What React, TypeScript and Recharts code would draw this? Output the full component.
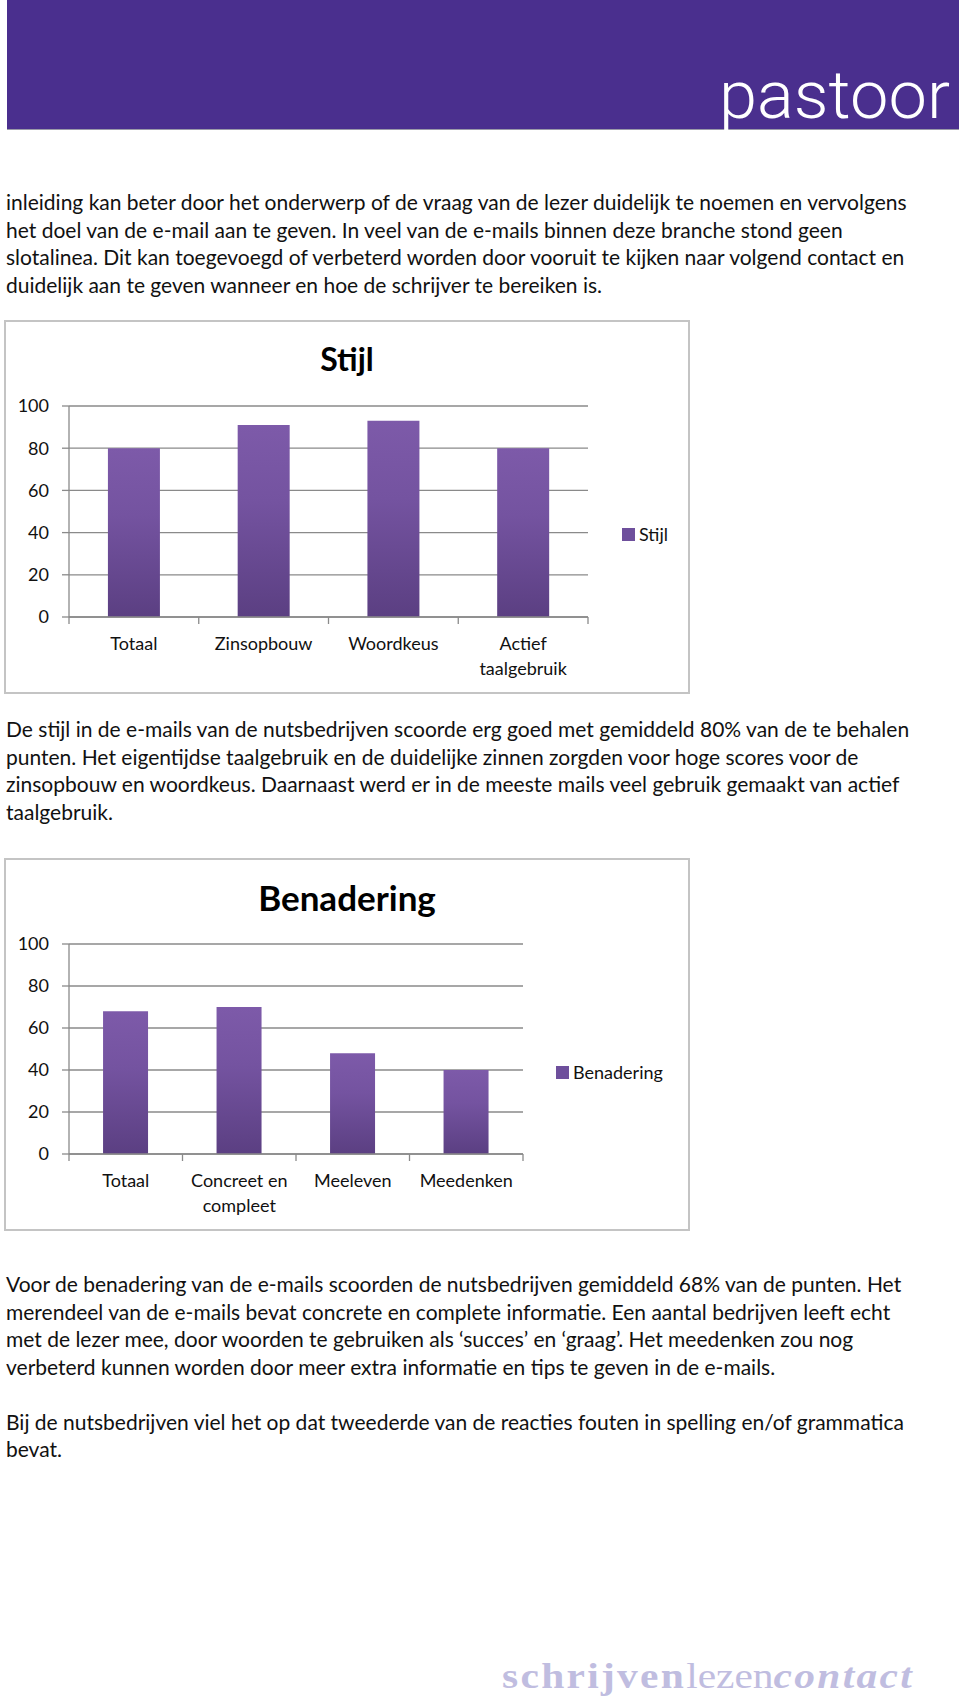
import { BarChart, Bar, XAxis, YAxis, CartesianGrid, Legend } from 'recharts';

// Stijl chart
const STIJL_CATEGORIES = ['Totaal', 'Zinsopbouw', 'Woordkeus', 'Actief taalgebruik'];
const STIJL_VALUES = [80, 91, 93, 80];

// Benadering chart
const BENADERING_CATEGORIES = ['Totaal', 'Concreet en compleet', 'Meeleven', 'Meedenken'];
const BENADERING_VALUES = [68, 70, 48, 40];

const Y_TICKS = [0, 20, 40, 60, 80, 100];

const INTRO_LINES = [
  'inleiding kan beter door het onderwerp of de vraag van de lezer duidelijk te noemen en vervolgens',
  'het doel van de e-mail aan te geven. In veel van de e-mails binnen deze branche stond geen',
  'slotalinea. Dit kan toegevoegd of verbeterd worden door vooruit te kijken naar volgend contact en',
  'duidelijk aan te geven wanneer en hoe de schrijver te bereiken is.',
];

const STIJL_LINES = [
  'De stijl in de e-mails van de nutsbedrijven scoorde erg goed met gemiddeld 80% van de te behalen',
  'punten. Het eigentijdse taalgebruik en de duidelijke zinnen zorgden voor hoge scores voor de',
  'zinsopbouw en woordkeus. Daarnaast werd er in de meeste mails veel gebruik gemaakt van actief',
  'taalgebruik.',
];

const BENADERING_LINES = [
  'Voor de benadering van de e-mails scoorden de nutsbedrijven gemiddeld 68% van de punten. Het',
  'merendeel van de e-mails bevat concrete en complete informatie. Een aantal bedrijven leeft echt',
  'met de lezer mee, door woorden te gebruiken als \u2018succes\u2019 en \u2018graag\u2019. Het meedenken zou nog',
  'verbeterd kunnen worden door meer extra informatie en tips te geven in de e-mails.',
  '',
  'Bij de nutsbedrijven viel het op dat tweederde van de reacties fouten in spelling en/of grammatica',
  'bevat.',
];

const FONT = 'Lato, "Open Sans", sans-serif';
const GRID = '#8a8a8a';
const TEXT = '#111';

const CHART_W = 682;
const Y_AXIS_W = 63;

function wrapLabel(label: string, maxChars = 12) {
  const words = label.split(' ');
  const lines: string[] = [];
  let cur = '';
  words.forEach((w) => {
    const next = cur ? cur + ' ' + w : w;
    if (next.length > maxChars && cur) {
      lines.push(cur);
      cur = w;
    } else {
      cur = next;
    }
  });
  if (cur) lines.push(cur);
  return lines;
}

function CategoryTick(props: any) {
  const { x, y, payload, index, band, count } = props;
  const lines = wrapLabel(String(payload.value));
  const left = x - band / 2;
  return (
    <g>
      <line x1={left} x2={left} y1={y} y2={y + 7} stroke={GRID} strokeWidth={1.3} />
      {index === count - 1 && (
        <line x1={x + band / 2} x2={x + band / 2} y1={y} y2={y + 7} stroke={GRID} strokeWidth={1.3} />
      )}
      <text textAnchor="middle" fontFamily={FONT} fontSize={18} fill={TEXT}>
        {lines.map((l, i) => (
          <tspan key={i} x={x} y={y + 27 + i * 25} dy="0.35em">
            {l}
          </tspan>
        ))}
      </text>
    </g>
  );
}

interface ScoreChartProps {
  title: string;
  titleSize: number;
  categories: string[];
  values: number[];
  top: number;
  height: number;
  marginRight: number;
  legendLeft: number;
  legendTop: number;
  gradId: string;
}

function ScoreChart({ title, titleSize, categories, values, top, height, marginRight, legendLeft, legendTop, gradId }: ScoreChartProps) {
  const data = categories.map((c, i) => ({ category: c, [title]: values[i] }));
  const band = (CHART_W - Y_AXIS_W - marginRight) / categories.length;

  return (
    <div
      style={{
        position: 'absolute',
        left: 4,
        top,
        width: CHART_W + 4,
        height: height + 4,
        border: '2px solid #c4c4c4',
        boxSizing: 'border-box',
        background: '#fff',
      }}
    >
      <div
        style={{
          position: 'absolute',
          left: 0,
          top: 17,
          width: CHART_W,
          textAlign: 'center',
          fontFamily: FONT,
          fontWeight: 700,
          fontSize: titleSize,
          lineHeight: '40px',
          color: '#000',
        }}
      >
        {title}
      </div>
      <BarChart
        width={CHART_W}
        height={height}
        data={data}
        margin={{ top: 84, right: marginRight, bottom: 25, left: 0 }}
        barCategoryGap="30%"
      >
        <defs>
          <linearGradient id={gradId} x1="0" y1="0" x2="0" y2="1">
            <stop offset="0%" stopColor="#7d5aa9" />
            <stop offset="40%" stopColor="#7453a0" />
            <stop offset="100%" stopColor="#5b3f82" />
          </linearGradient>
        </defs>
        <CartesianGrid vertical={false} stroke={GRID} strokeWidth={1.3} />
        <XAxis
          dataKey="category"
          interval={0}
          height={50}
          tickSize={0}
          tickMargin={0}
          tickLine={false}
          axisLine={{ stroke: GRID, strokeWidth: 1.3 }}
          tick={(p: any) => <CategoryTick {...p} band={band} count={categories.length} />}
        />
        <YAxis
          width={Y_AXIS_W}
          domain={[0, 100]}
          ticks={Y_TICKS}
          interval={0}
          tickSize={7}
          tickMargin={13}
          axisLine={{ stroke: GRID, strokeWidth: 1.3 }}
          tickLine={{ stroke: GRID, strokeWidth: 1.3 }}
          tick={{ fill: TEXT, fontSize: 18, fontFamily: FONT }}
        />
        <Legend
          layout="vertical"
          align="center"
          verticalAlign="middle"
          wrapperStyle={{ left: legendLeft, top: legendTop, width: 140 }}
          content={() => (
            <div style={{ display: 'flex', alignItems: 'center', fontFamily: FONT, fontSize: 18, color: TEXT }}>
              <span style={{ display: 'inline-block', width: 13, height: 13, background: '#6e4f9c', marginRight: 4 }} />
              <span>{title}</span>
            </div>
          )}
        />
        <Bar dataKey={title} fill={`url(#${gradId})`} isAnimationActive={false} />
      </BarChart>
    </div>
  );
}

function Paragraph({ lines, top }: { lines: string[]; top: number }) {
  return (
    <div
      style={{
        position: 'absolute',
        left: 6,
        top,
        fontFamily: FONT,
        fontSize: 21,
        lineHeight: '27.5px',
        color: TEXT,
      }}
    >
      {lines.map((l, i) => (
        <div key={i} style={{ whiteSpace: 'nowrap', height: 27.5 }}>
          {l}
        </div>
      ))}
    </div>
  );
}

export default function App() {
  return (
    <div style={{ position: 'absolute', left: 0, top: 0, width: 960, height: 1708, background: '#fff', overflow: 'hidden' }}>
      <div
        style={{
          position: 'absolute',
          left: 7,
          top: 0,
          width: 952,
          height: 130,
          background: '#4a2f8e',
          borderBottom: '1px solid #9a9aa8',
          boxSizing: 'border-box',
        }}
      />
      <svg style={{ position: 'absolute', left: 0, top: 0 }} width={960} height={140}>
        <text
          x={719}
          y={118}
          fill="#fff"
          fontFamily="Roboto, sans-serif"
          fontWeight={300}
          fontSize={66}
          textLength={231}
          lengthAdjust="spacingAndGlyphs"
        >
          pastoor
        </text>
      </svg>

      <Paragraph lines={INTRO_LINES} top={188} />

      <ScoreChart
        title="Stijl"
        titleSize={32}
        categories={STIJL_CATEGORIES}
        values={STIJL_VALUES}
        top={320}
        height={370}
        marginRight={100}
        legendLeft={616}
        legendTop={201}
        gradId="gradStijl"
      />

      <Paragraph lines={STIJL_LINES} top={715} />

      <ScoreChart
        title="Benadering"
        titleSize={35}
        categories={BENADERING_CATEGORIES}
        values={BENADERING_VALUES}
        top={858}
        height={369}
        marginRight={165}
        legendLeft={550}
        legendTop={201}
        gradId="gradBenadering"
      />

      <Paragraph lines={BENADERING_LINES} top={1270} />

      <svg style={{ position: 'absolute', left: 0, top: 1620 }} width={960} height={88}>
        <text
          x={502}
          y={68}
          fill="#c0bde0"
          fontFamily='"Liberation Serif", serif'
          fontSize={36}
          textLength={412}
          lengthAdjust="spacingAndGlyphs"
        >
          <tspan fontWeight={700} letterSpacing={2}>schrijven</tspan>
          <tspan>lezen</tspan>
          <tspan fontWeight={700} fontStyle="italic" letterSpacing={2}>contact</tspan>
        </text>
      </svg>
    </div>
  );
}
